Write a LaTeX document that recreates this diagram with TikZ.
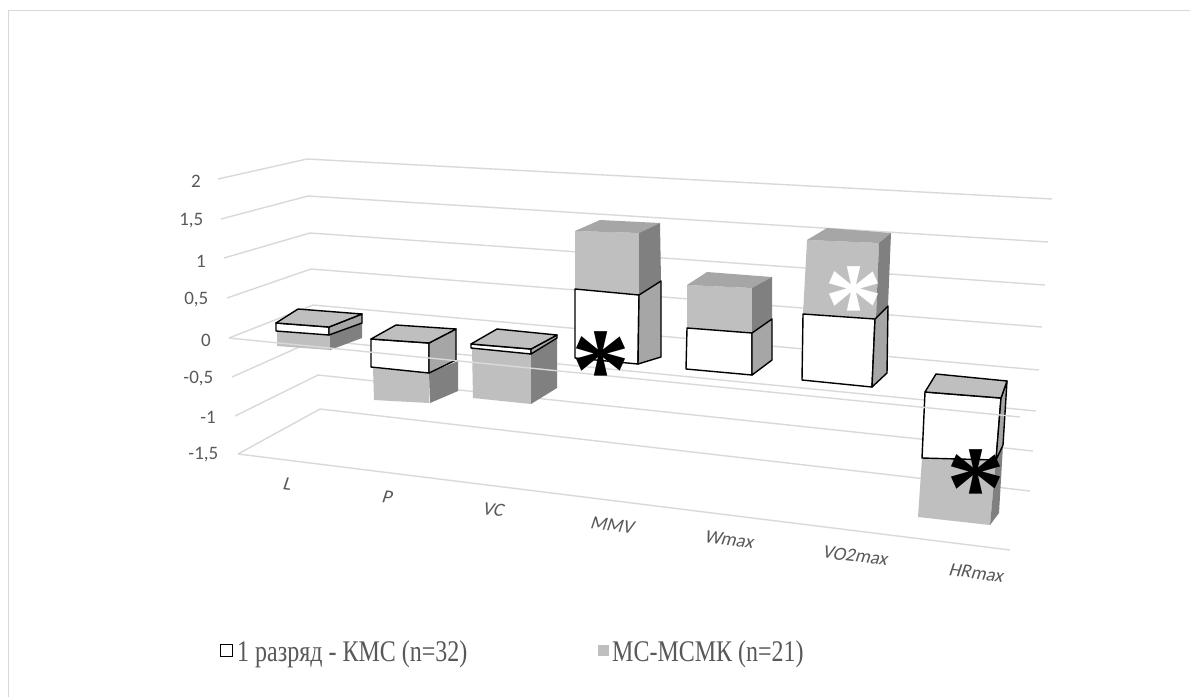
\documentclass[tikz,border=0pt]{standalone}
\usepackage{fontspec}
\setmainfont{Liberation Serif}
\newfontfamily\calib{Carlito}
\definecolor{gridc}{HTML}{D9D9D9}
\definecolor{labc}{HTML}{595959}
\definecolor{gfront}{HTML}{BFBFBF}
\definecolor{gtop}{HTML}{A6A6A6}
\definecolor{gside}{HTML}{808080}
\definecolor{wside}{HTML}{A6A6A6}
\begin{document}
\begin{tikzpicture}[x=1pt,y=-1pt,
  gridline/.style={draw=gridc,line width=1.4pt},
  outl/.style={draw=black,line width=1.4pt,line join=round},
  vlab/.style={font=\calib\fontsize{19}{22}\selectfont,text=labc,anchor=east,inner sep=0pt},
  clab/.style={font=\calib\fontsize{19}{22}\selectfont,text=labc,inner sep=0pt,rotate=-7,xslant=0.2},
  legtxt/.style={font=\fontsize{30}{34}\selectfont,text=labc,inner sep=0pt,anchor=base west,xscale=0.8},
  astk/.style={font=\bfseries\fontsize{118}{118}\selectfont,inner sep=0pt}
]
\useasboundingbox (0,0) rectangle (1190,697);
\fill[white] (0,0) rectangle (1190,697);
\draw[gridc,line width=1.2pt] (8.5,697) -- (8.5,10.5) -- (1190,10.5);

% gridlines: front-left, back-left, back-right
\coordinate (F1) at (218,179); \coordinate (B1) at (307,159); \coordinate (R1) at (1052,199);
\coordinate (F2) at (221,219); \coordinate (B2) at (308,196); \coordinate (R2) at (1048,242);
\coordinate (F3) at (224,258); \coordinate (B3) at (310,233); \coordinate (R3) at (1045,285);
\coordinate (F4) at (227,298); \coordinate (B4) at (311,269); \coordinate (R4) at (1042,327);
\coordinate (F5) at (229,338); \coordinate (B5) at (313,305); \coordinate (R5) at (1039,370);
\coordinate (F6) at (232,377); \coordinate (B6) at (315,340); \coordinate (R6) at (1036,411);
\coordinate (F7) at (235,416); \coordinate (B7) at (318,375); \coordinate (R7) at (1033,451);
\coordinate (F8) at (238,454); \coordinate (B8) at (320,409); \coordinate (R8) at (1030,491);
\coordinate (Z0) at (1020,417);
\coordinate (Z8) at (1010,550);
\foreach \i in {1,...,8} {\draw[gridline] (F\i) -- (B\i) -- (R\i);}
\draw[gridline] (F8) -- (Z8);

% ---- L ----
\fill[gfront] (277,331) -- (330,335) -- (330,350) -- (277,346) -- cycle;
\fill[gside] (330,335) -- (362,323) -- (362,338) -- (330,350) -- cycle;
\filldraw[fill=white,outl] (276,323) -- (329,327) -- (329,335) -- (276,331) -- cycle;
\filldraw[fill=wside,outl] (329,327) -- (362,314) -- (362,323) -- (329,335) -- cycle;
\filldraw[fill=gfront,outl] (276,323) -- (298,309) -- (362,314) -- (329,327) -- cycle;

% ---- P ----
\fill[gfront] (373,368) -- (429,373) -- (429,403) -- (374,400) -- cycle;
\fill[gside] (429,373) -- (458,361) -- (458,391) -- (430,403) -- cycle;
\filldraw[fill=white,outl] (371,339) -- (429,343) -- (429,373) -- (371,367) -- cycle;
\filldraw[fill=wside,outl] (429,343) -- (456,329) -- (456,360) -- (429,373) -- cycle;
\filldraw[fill=gfront,outl] (371,339) -- (396,325) -- (456,329) -- (429,343) -- cycle;

% ---- VC ----
\fill[gfront] (472,348) -- (531,354) -- (531,404) -- (473,398) -- cycle;
\fill[gside] (531,354) -- (557,338) -- (557,388) -- (531,404) -- cycle;
\filldraw[fill=white,outl] (471,344) -- (531,349) -- (531,354) -- (471,348) -- cycle;
\filldraw[fill=wside,outl] (531,349) -- (557,335) -- (557,338) -- (531,354) -- cycle;
\filldraw[fill=gfront,outl] (471,344) -- (497,329) -- (557,335) -- (531,349) -- cycle;

% ---- MMV ----
\fill[gfront] (575,231) -- (639,233) -- (639,295) -- (575,289) -- cycle;
\fill[gtop] (575,231) -- (600,220) -- (660,223) -- (639,233) -- cycle;
\fill[gside] (639,233) -- (660,223) -- (661,281) -- (639,295) -- cycle;
\filldraw[fill=white,outl] (575,289) -- (639,295) -- (638,364) -- (575,358) -- cycle;
\filldraw[fill=wside,outl] (639,295) -- (661,281) -- (661,357) -- (638,364) -- cycle;

% ---- Wmax ----
\fill[gfront] (687,285) -- (752,288) -- (752,333) -- (687,328) -- cycle;
\fill[gtop] (687,285) -- (707,272) -- (772,277) -- (752,288) -- cycle;
\fill[gside] (752,288) -- (772,277) -- (772,319) -- (752,333) -- cycle;
\filldraw[fill=white,outl] (687,328) -- (752,333) -- (752,375) -- (686,369) -- cycle;
\filldraw[fill=wside,outl] (752,333) -- (772,319) -- (772,360) -- (752,375) -- cycle;

% ---- VO2max ----
\fill[gfront] (807,240) -- (879,243) -- (876,319) -- (803,314) -- cycle;
\fill[gtop] (807,240) -- (827,228) -- (891,233) -- (879,243) -- cycle;
\fill[gside] (879,243) -- (891,233) -- (888,306) -- (876,319) -- cycle;
\filldraw[fill=white,outl] (803,314) -- (875,319) -- (872,387) -- (802,380) -- cycle;
\filldraw[fill=wside,outl] (875,319) -- (888,306) -- (887,373) -- (872,387) -- cycle;

% ---- HRmax ----
\fill[gfront] (922,458) -- (996,460) -- (990,525) -- (918,517) -- cycle;
\fill[gside] (996,460) -- (1003,445) -- (999,513) -- (990,525) -- cycle;
\filldraw[fill=white,outl] (925,392) -- (1001,398) -- (996,460) -- (922,458) -- cycle;
\filldraw[fill=wside,outl] (1001,398) -- (1007,381) -- (1003,445) -- (996,460) -- cycle;
\filldraw[fill=gfront,outl] (925,392) -- (936,374) -- (1007,381) -- (1001,398) -- cycle;

% zero front line drawn over bars
\draw[gridline] (F5) -- (Z0);

% asterisks
\node[astk,text=black] (a1) at (601,371) {*};
\node[astk,text=white] (a2) at (854,306) {*};
\node[astk,text=black] (a3) at (976,489) {*};

% value labels
\node[vlab] (v1) at (201,181) {2};
\node[vlab] (v2) at (203.5,221) {1,5};
\node[vlab] (v3) at (206,261) {1};
\node[vlab] (v4) at (208.5,300) {0,5};
\node[vlab] (v5) at (211,340) {0};
\node[vlab] (v6) at (213.5,379) {-0,5};
\node[vlab] (v7) at (216,417) {-1};
\node[vlab] (v8) at (218.5,455) {-1,5};

% category labels
\node[clab] (c1) at (288,484) {L};
\node[clab] (c2) at (388,497) {P};
\node[clab] (c3) at (494,510) {VC};
\node[clab] (c4) at (613,525) {MMV};
\node[clab] (c5) at (730,540) {Wmax};
\node[clab] (c6) at (856,556) {VO2max};
\node[clab] (c7) at (977,573) {HRmax};

% legend
\node[draw=black,fill=white,line width=1pt,minimum size=12pt,inner sep=0pt] (sq1) at (226.5,650) {};
\node[legtxt] (l1) at (237,661) {1 разряд - КМС (n=32)};
\node[fill=gfront,minimum size=11pt,inner sep=0pt] (sq2) at (603.5,650) {};
\node[legtxt] (l2) at (612,661) {МС-МСМК (n=21)};
\end{tikzpicture}
\end{document}
